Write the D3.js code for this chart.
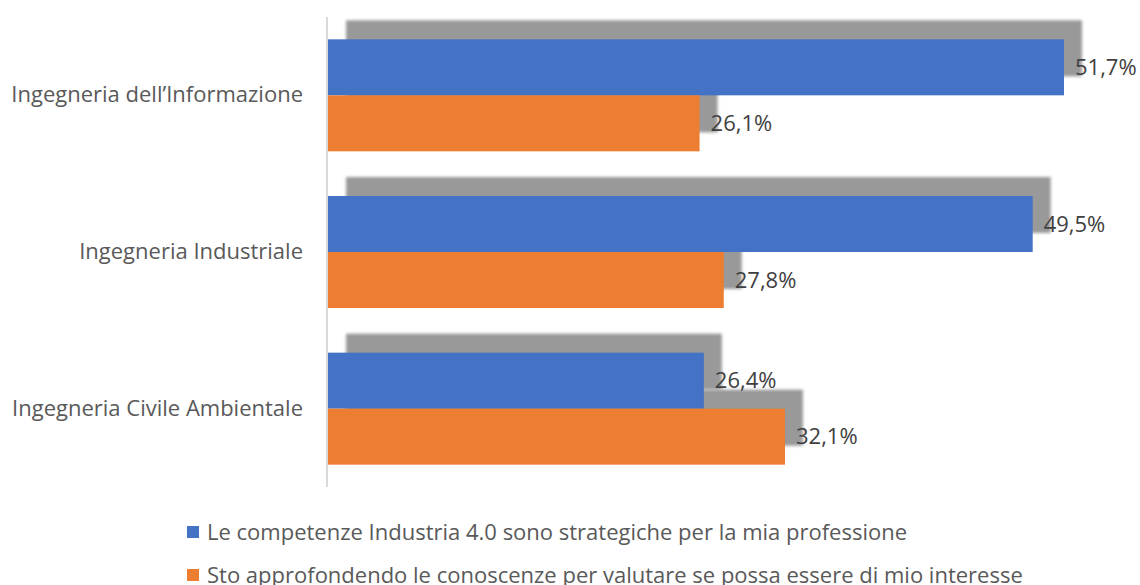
<!DOCTYPE html>
<html><head><meta charset="utf-8">
<script src="https://cdn.jsdelivr.net/npm/d3@7"></script>
<style>body{margin:0;background:#fff}svg{display:block}</style>
</head><body>
<script>
const categories = ["Ingegneria dell’Informazione", "Ingegneria Industriale", "Ingegneria Civile Ambientale"];
const seriesNames = ["Le competenze Industria 4.0 sono strategiche per la mia professione",
  "Sto approfondendo le conoscenze per valutare se possa essere di mio interesse"];
const strategiche = [51.7, 49.5, 26.4];
const approfondendo = [26.1, 27.8, 32.1];
const colors = ["#4472C4", "#ED7D31"];

const W = 1140, H = 585;
const svg = d3.select("body").append("svg").attr("width", W).attr("height", H);
const font = "'Open Sans', sans-serif";
const fs = 22;

const defs = svg.append("defs");
const f = defs.append("filter").attr("id", "sh").attr("x", "-10%").attr("y", "-50%").attr("width", "130%").attr("height", "200%");
f.append("feGaussianBlur").attr("in", "SourceAlpha").attr("stdDeviation", 1.5).attr("result", "b");
f.append("feOffset").attr("in", "b").attr("dx", 18).attr("dy", -19).attr("result", "o");
f.append("feFlood").attr("flood-color", "#999999").attr("result", "c");
f.append("feComposite").attr("in", "c").attr("in2", "o").attr("operator", "in").attr("result", "s");
const m = f.append("feMerge");
m.append("feMergeNode").attr("in", "s");

const x0 = 328;
const x = d3.scaleLinear().domain([0, 60]).range([x0, x0 + 60 * 14.236]);
const y = d3.scaleBand().domain(categories).range([17, 487]).paddingInner(0.285).paddingOuter(0.1425);
const ys = d3.scaleBand().domain([0, 1]).range([0, y.bandwidth()]);

const data = [];
categories.forEach((c, i) => {
  data.push({c, s: 0, v: strategiche[i]});
  data.push({c, s: 1, v: approfondendo[i]});
});

// shadows first
svg.append("g").selectAll("rect").data(data).join("rect")
  .attr("x", x(0)).attr("y", d => y(d.c) + ys(d.s))
  .attr("width", d => x(d.v) - x(0)).attr("height", ys.bandwidth())
  .attr("fill", "#000").attr("filter", "url(#sh)");

svg.append("g").selectAll("rect").data(data).join("rect")
  .attr("x", x(0)).attr("y", d => y(d.c) + ys(d.s))
  .attr("width", d => x(d.v) - x(0)).attr("height", ys.bandwidth())
  .attr("fill", d => colors[d.s]);

// axis
const ax = svg.append("g").attr("transform", `translate(${x0 - 1},0)`)
  .call(d3.axisLeft(y).tickSize(0).tickPadding(24));
ax.select(".domain").attr("stroke", "#d9d9d9").attr("stroke-width", 2).attr("d", "M0,17V487");
ax.selectAll("text").attr("font-family", font).attr("font-size", fs).attr("fill", "#595959");

// labels
svg.append("g").selectAll("text").data(data).join("text")
  .attr("x", d => x(d.v) + 11).attr("y", d => y(d.c) + ys(d.s) + ys.bandwidth() / 2)
  .attr("dy", "0.35em").attr("font-family", font).attr("font-size", fs).attr("fill", "#404040")
  .text(d => d.v.toFixed(1).replace(".", ",") + "%");

// legend
const lg = svg.append("g").selectAll("g").data(seriesNames).join("g")
  .attr("transform", (d, i) => `translate(187,${532 + i * 43})`);
lg.append("rect").attr("x", 0).attr("y", -6).attr("width", 12).attr("height", 12).attr("fill", (d, i) => colors[i]);
lg.append("text").attr("x", 20).attr("dy", "0.35em").attr("font-family", font).attr("font-size", fs)
  .attr("fill", "#595959").text(d => d);
</script>
</body></html>
